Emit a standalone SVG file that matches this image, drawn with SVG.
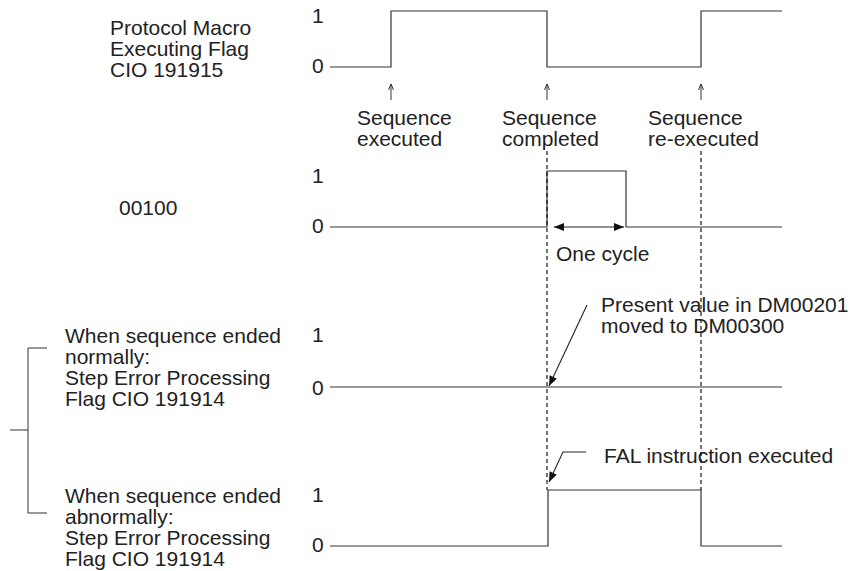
<svg xmlns="http://www.w3.org/2000/svg" width="852" height="571" viewBox="0 0 852 571">
<style>
text{font-family:"Liberation Sans",Arial,sans-serif;font-size:21px;fill:#222}
.wave{fill:none;stroke:#333;stroke-width:1.2}
.dash{fill:none;stroke:#000;stroke-width:1.1;stroke-dasharray:4 3}
.thin{fill:none;stroke:#333;stroke-width:1}
.arr{fill:none;stroke:#222;stroke-width:1.1}
</style>
<defs>
<marker id="head" viewBox="0 0 10 8" refX="10" refY="4" markerWidth="11" markerHeight="8" markerUnits="userSpaceOnUse" orient="auto-start-reverse">
<path d="M0,0 L10,4 L0,8 Z" fill="#111"/>
</marker>
<path id="up" d="M0,16 V0 M-2.5,6 L0,0 L2.5,6" fill="none" stroke="#333" stroke-width="1"/>
</defs>

<g id="sig-executing">
<text x="110" y="35">Protocol Macro</text>
<text x="110" y="56">Executing Flag</text>
<text x="110" y="77">CIO 191915</text>
<text x="312" y="23">1</text>
<text x="312" y="73">0</text>
<path class="wave" d="M330,67 H391 V11 H547 V67 H701 V11 H782"/>
</g>

<g id="evt-executed">
<text x="357" y="125">Sequence</text>
<text x="357" y="146">executed</text>
</g>
<g id="evt-completed">
<text x="502" y="125">Sequence</text>
<text x="502" y="146">completed</text>
</g>
<g id="evt-reexecuted">
<text x="648" y="125">Sequence</text>
<text x="648" y="146">re-executed</text>
</g>

<g id="sig-00100">
<text x="119" y="215">00100</text>
<text x="312" y="183">1</text>
<text x="312" y="233">0</text>
<path class="wave" d="M330,227 H547 V171 H626 V227 H782"/>
<text x="556" y="261">One cycle</text>
</g>

<g id="sig-normal">
<text x="65" y="343">When sequence ended</text>
<text x="65" y="364">normally:</text>
<text x="65" y="385">Step Error Processing</text>
<text x="65" y="406">Flag CIO 191914</text>
<text x="312" y="342">1</text>
<text x="312" y="395">0</text>
<path class="wave" d="M330,387 H782"/>
</g>

<g id="sig-abnormal">
<text x="65" y="503">When sequence ended</text>
<text x="65" y="524">abnormally:</text>
<text x="65" y="545">Step Error Processing</text>
<text x="65" y="566">Flag CIO 191914</text>
<text x="312" y="502">1</text>
<text x="312" y="552">0</text>
<path class="wave" d="M330,546 H548 V490 H701 V546 H782"/>
</g>

<g id="note-present">
<text x="601" y="312">Present value in DM00201</text>
<text x="601" y="333">moved to DM00300</text>
</g>
<g id="note-fal">
<text x="604" y="463">FAL instruction executed</text>
</g>

<g id="connectors">
<use href="#up" x="391" y="84"/>
<use href="#up" x="547" y="84"/>
<use href="#up" x="701" y="84"/>
<line class="dash" x1="547" y1="151" x2="547" y2="490"/>
<line class="dash" x1="701" y1="151" x2="701" y2="490"/>
<line class="arr" x1="554" y1="227" x2="624" y2="227" marker-start="url(#head)" marker-end="url(#head)"/>
<line class="arr" x1="587" y1="305" x2="549" y2="386" marker-end="url(#head)"/>
<path class="arr" d="M586,452 H563 L549,482" marker-end="url(#head)"/>
<path class="thin" d="M47,348 H28 V513 H47 M10,430 H28"/>
</g>
</svg>
